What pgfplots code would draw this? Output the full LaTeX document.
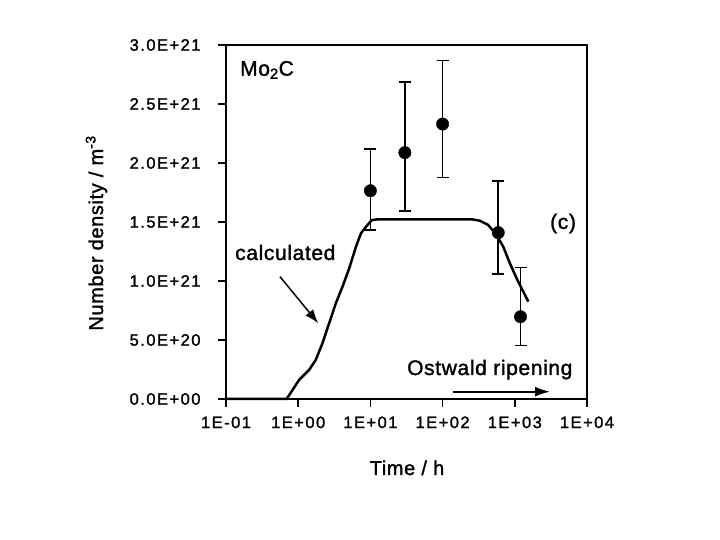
\documentclass[border=0pt]{standalone}
\usepackage{pgfplots}
\pgfplotsset{compat=1.18}
\usetikzlibrary{arrows.meta}
\usepackage{fontspec}
\setmainfont{Liberation Sans}
\newfontfamily\tickfont[LetterSpace=9, FakeBold=1.5]{Liberation Sans}
\newfontfamily\annfont[LetterSpace=3, FakeBold=1.5]{Liberation Sans}
\begin{document}
\begin{tikzpicture}
\useasboundingbox[fill=white] (0pt,0pt) rectangle (720pt,540pt);
\begin{axis}[
  at={(226pt,141pt)}, anchor=south west,
  scale only axis, width=361pt, height=354pt,
  xmode=log, xmin=0.1, xmax=10000,
  ymin=0, ymax=3e21,
  xtick={0.1,1,10,100,1000,10000},
  xticklabels={1E-01,1E+00,1E+01,1E+02,1E+03,1E+04},
  ytick={0,5e20,1e21,1.5e21,2e21,2.5e21,3e21},
  yticklabels={0.0E+00,5.0E+20,1.0E+21,1.5E+21,2.0E+21,2.5E+21,3.0E+21},
  scaled y ticks=false,
  xminorticks=false, yminorticks=false,
  tick align=outside, xtick pos=left, ytick pos=left,
  major tick length=8pt,
  axis line style={line width=1.8pt},
  every tick/.style={black, line width=1.5pt},
  tick label style={font=\tickfont\fontsize{16.5}{18}\selectfont},
  yticklabel style={xshift=-14pt},
  xticklabel style={yshift=-6pt},
  clip=false,
]
\addplot[black, line width=2.5pt] coordinates {
(0.1,0) (0.692,0) (1.026,0.161e21) (1.413,0.246e21) (1.749,0.331e21)
(2.167,0.472e21) (2.68,0.641e21) (3.32,0.811e21) (4.11,0.952e21)
(5.09,1.107e21) (6.31,1.291e21) (7.4,1.404e21) (8.69,1.460e21)
(10.5,1.517e21) (13,1.523e21) (251,1.523e21) (327,1.511e21)
(428,1.475e21) (558,1.39e21) (692,1.291e21) (855,1.15e21)
(1059,1.023e21) (1312,0.909e21) (1540,0.825e21)
};
\addplot[black, only marks, mark=*, mark size=6.2pt,
  error bars/.cd, y dir=both, y explicit,
  error bar style={line width=1.6pt},
  error mark options={rotate=90, mark size=6pt, line width=1.6pt}]
coordinates {
(10,1.765e21) += (0,0.355e21) -= (0,0.335e21)
(30,2.088e21) += (0,0.596e21) -= (0,0.495e21)
(100,2.33e21) += (0,0.537e21) -= (0,0.454e21)
(590,1.41e21) += (0,0.438e21) -= (0,0.351e21)
(1200,0.697e21) += (0,0.416e21) -= (0,0.242e21)
};
\end{axis}
\begin{scope}[every node/.style={font=\annfont\fontsize{21}{24}\selectfont, inner sep=0pt}]
\node[anchor=base west] at (240pt,464.3pt) {Mo\textsubscript{2}C};
\node[anchor=base west] at (235pt,280pt) {calculated};
\node[anchor=base west] at (550pt,311pt) {(c)};
\node[anchor=base west] at (407pt,165pt) {Ostwald ripening};
\end{scope}
\begin{scope}[every node/.style={font=\annfont\fontsize{20}{24}\selectfont, inner sep=0pt}]
\node[rotate=90, anchor=base] at (103pt,307pt) {Number density / m\textsuperscript{-3}};
\node[anchor=base] at (407pt,65pt) {Time / h};
\end{scope}
\draw[-{Latex[length=15pt,width=10pt]}, line width=1.8pt] (453pt,148.3pt) -- (550pt,148.3pt);
\draw[-{Latex[length=14pt,width=10pt]}, line width=1.5pt] (280pt,263.3pt) -- (318.3pt,216.7pt);
\end{tikzpicture}
\end{document}
